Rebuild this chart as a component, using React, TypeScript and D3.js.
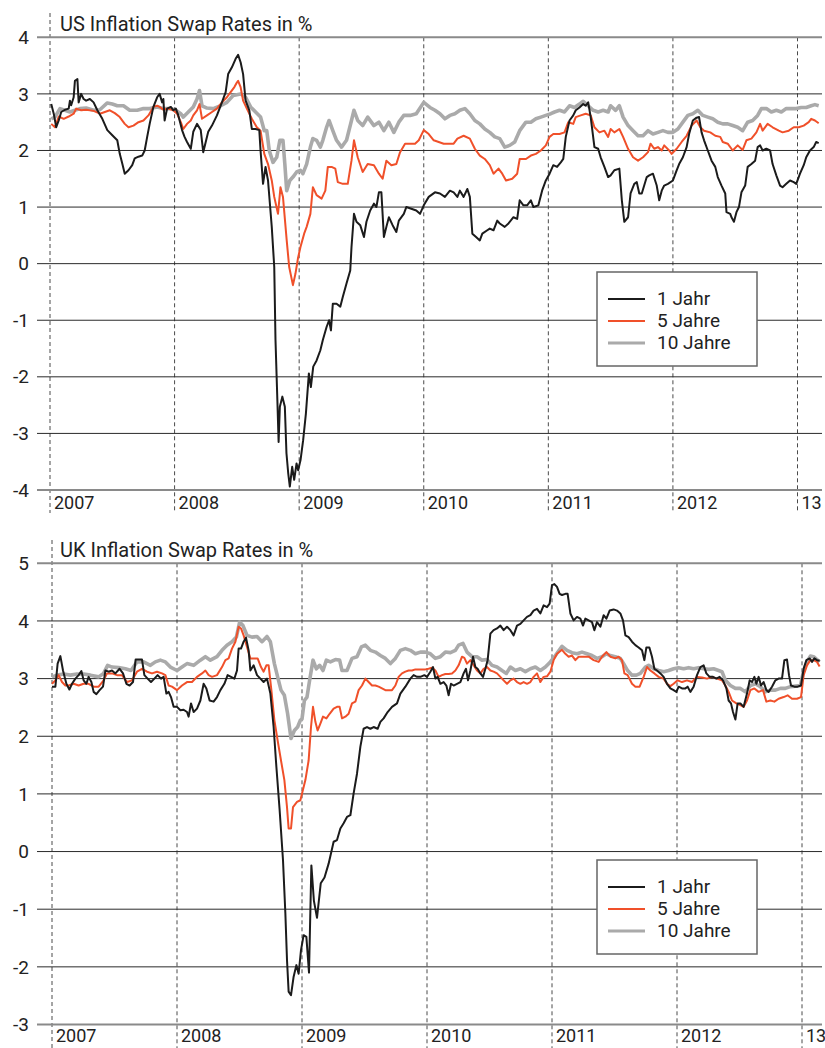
import React from "react";
import * as d3 from "d3";

type Pt = [number, number];

const yearTicks = [2007, 2008, 2009, 2010, 2011, 2012, 2013];
const yearLabels = ["2007", "2008", "2009", "2010", "2011", "2012", "13"];
const usYTicks = [4, 3, 2, 1, 0, -1, -2, -3, -4];
const ukYTicks = [5, 4, 3, 2, 1, 0, -1, -2, -3];
const seriesNames = ["1 Jahr", "5 Jahre", "10 Jahre"];
const seriesColors = ["#1b1b1b", "#f0502a", "#aaaaaa"];
const seriesWidths = [2, 2, 3.6];

const us1Jahr: Pt[] = [[2007.01,2.82],[2007.03,2.65],[2007.05,2.41],[2007.07,2.53],[2007.09,2.68],[2007.12,2.72],[2007.15,2.74],[2007.16,2.88],[2007.17,2.80],[2007.19,2.94],[2007.20,3.23],[2007.22,3.26],[2007.23,2.85],[2007.25,3.00],[2007.27,2.91],[2007.29,2.88],[2007.32,2.91],[2007.35,2.85],[2007.38,2.71],[2007.42,2.56],[2007.46,2.36],[2007.50,2.27],[2007.54,2.18],[2007.56,1.94],[2007.58,1.77],[2007.60,1.59],[2007.63,1.65],[2007.66,1.74],[2007.68,1.86],[2007.71,1.89],[2007.74,1.91],[2007.76,2.00],[2007.78,2.24],[2007.80,2.47],[2007.83,2.77],[2007.86,2.94],[2007.88,3.00],[2007.90,2.85],[2007.91,2.91],[2007.92,2.53],[2007.94,2.74],[2007.97,2.77],[2007.99,2.71],[2008.01,2.74],[2008.03,2.62],[2008.06,2.36],[2008.08,2.24],[2008.10,2.15],[2008.13,2.03],[2008.15,2.33],[2008.18,2.47],[2008.21,2.36],[2008.23,1.97],[2008.25,2.15],[2008.27,2.33],[2008.30,2.44],[2008.34,2.62],[2008.38,2.85],[2008.41,3.03],[2008.43,3.35],[2008.46,3.47],[2008.49,3.62],[2008.51,3.69],[2008.53,3.56],[2008.55,3.35],[2008.57,2.88],[2008.60,2.71],[2008.62,2.38],[2008.65,2.38],[2008.68,2.36],[2008.69,2.00],[2008.71,1.41],[2008.73,1.71],[2008.75,1.47],[2008.78,0.65],[2008.80,-0.06],[2008.81,-1.35],[2008.825,-2.41],[2008.835,-3.15],[2008.845,-2.53],[2008.865,-2.35],[2008.885,-2.53],[2008.898,-3.35],[2008.912,-3.70],[2008.925,-3.94],[2008.944,-3.59],[2008.96,-3.82],[2008.979,-3.53],[2008.992,-3.65],[2009.011,-3.47],[2009.032,-3.12],[2009.054,-2.65],[2009.078,-1.94],[2009.094,-2.18],[2009.113,-1.82],[2009.14,-1.71],[2009.17,-1.53],[2009.19,-1.35],[2009.22,-1.12],[2009.24,-1.00],[2009.255,-1.18],[2009.27,-0.71],[2009.30,-0.71],[2009.33,-0.76],[2009.35,-0.59],[2009.38,-0.35],[2009.41,-0.12],[2009.42,0.29],[2009.44,0.88],[2009.46,0.74],[2009.49,0.68],[2009.52,0.47],[2009.54,0.74],[2009.57,0.94],[2009.60,1.06],[2009.62,1.00],[2009.64,1.26],[2009.66,1.26],[2009.68,0.47],[2009.70,0.65],[2009.72,0.82],[2009.75,0.68],[2009.78,0.56],[2009.80,0.76],[2009.84,0.88],[2009.86,1.00],[2009.90,0.97],[2009.94,0.94],[2009.97,0.88],[2010.00,1.03],[2010.04,1.18],[2010.09,1.26],[2010.13,1.24],[2010.17,1.18],[2010.21,1.29],[2010.24,1.26],[2010.27,1.18],[2010.29,1.29],[2010.32,1.18],[2010.35,1.32],[2010.37,1.18],[2010.39,0.53],[2010.42,0.47],[2010.45,0.41],[2010.47,0.53],[2010.51,0.59],[2010.53,0.62],[2010.56,0.59],[2010.59,0.76],[2010.61,0.71],[2010.65,0.65],[2010.68,0.71],[2010.72,0.82],[2010.75,0.79],[2010.77,1.12],[2010.80,1.03],[2010.83,1.03],[2010.86,1.12],[2010.88,1.00],[2010.92,1.03],[2010.95,1.29],[2010.98,1.47],[2011.01,1.59],[2011.04,1.74],[2011.07,1.71],[2011.10,1.79],[2011.12,1.85],[2011.14,2.24],[2011.17,2.53],[2011.20,2.62],[2011.22,2.71],[2011.25,2.76],[2011.28,2.82],[2011.30,2.79],[2011.32,2.85],[2011.34,2.59],[2011.37,2.06],[2011.40,2.03],[2011.42,1.88],[2011.45,1.71],[2011.48,1.53],[2011.50,1.56],[2011.53,1.65],[2011.57,1.68],[2011.59,1.12],[2011.61,0.74],[2011.64,0.82],[2011.66,1.24],[2011.69,1.41],[2011.71,1.44],[2011.73,1.24],[2011.75,1.24],[2011.79,1.53],[2011.81,1.56],[2011.84,1.59],[2011.87,1.38],[2011.89,1.12],[2011.91,1.29],[2011.93,1.38],[2011.96,1.41],[2012.00,1.47],[2012.03,1.65],[2012.05,1.76],[2012.08,1.88],[2012.11,2.06],[2012.13,2.29],[2012.16,2.53],[2012.19,2.58],[2012.21,2.59],[2012.23,2.32],[2012.25,2.18],[2012.28,2.00],[2012.31,1.82],[2012.34,1.71],[2012.36,1.53],[2012.39,1.38],[2012.42,1.24],[2012.43,0.91],[2012.46,0.88],[2012.47,0.82],[2012.49,0.74],[2012.51,0.91],[2012.53,1.00],[2012.55,1.26],[2012.58,1.38],[2012.60,1.71],[2012.63,1.76],[2012.66,1.82],[2012.68,2.06],[2012.70,2.09],[2012.72,2.00],[2012.75,2.03],[2012.78,2.00],[2012.80,1.76],[2012.83,1.56],[2012.86,1.38],[2012.88,1.35],[2012.91,1.41],[2012.94,1.47],[2012.97,1.44],[2012.99,1.41],[2013.02,1.59],[2013.05,1.74],[2013.07,1.88],[2013.10,2.00],[2013.13,2.06],[2013.15,2.15],[2013.17,2.13]];

const us5Jahre: Pt[] = [[2007.01,2.47],[2007.04,2.41],[2007.07,2.60],[2007.11,2.56],[2007.15,2.60],[2007.19,2.65],[2007.21,2.74],[2007.25,2.71],[2007.29,2.72],[2007.35,2.70],[2007.40,2.65],[2007.44,2.68],[2007.48,2.71],[2007.52,2.66],[2007.56,2.59],[2007.60,2.47],[2007.63,2.41],[2007.67,2.44],[2007.71,2.50],[2007.75,2.53],[2007.79,2.62],[2007.83,2.77],[2007.86,2.79],[2007.88,2.77],[2007.91,2.72],[2007.95,2.74],[2007.99,2.71],[2008.02,2.65],[2008.05,2.50],[2008.07,2.38],[2008.10,2.47],[2008.13,2.53],[2008.15,2.62],[2008.18,2.71],[2008.20,2.82],[2008.22,2.56],[2008.26,2.62],[2008.30,2.68],[2008.34,2.74],[2008.38,2.85],[2008.42,2.94],[2008.45,3.03],[2008.48,3.12],[2008.50,3.20],[2008.51,3.23],[2008.53,3.12],[2008.55,2.88],[2008.58,2.74],[2008.62,2.56],[2008.66,2.41],[2008.69,2.35],[2008.72,1.94],[2008.75,1.76],[2008.78,1.47],[2008.80,1.18],[2008.83,0.88],[2008.85,1.35],[2008.87,1.18],[2008.90,0.41],[2008.92,-0.06],[2008.95,-0.38],[2008.97,-0.18],[2008.99,0.09],[2009.01,0.29],[2009.04,0.53],[2009.06,0.65],[2009.09,0.88],[2009.11,1.35],[2009.14,1.21],[2009.18,1.15],[2009.21,1.29],[2009.23,1.71],[2009.26,1.71],[2009.29,1.68],[2009.31,1.44],[2009.35,1.41],[2009.39,1.41],[2009.42,1.82],[2009.44,2.18],[2009.47,1.88],[2009.51,1.62],[2009.55,1.76],[2009.60,1.74],[2009.64,1.59],[2009.67,1.50],[2009.70,1.82],[2009.74,1.74],[2009.78,1.76],[2009.81,1.97],[2009.85,2.12],[2009.89,2.12],[2009.93,2.12],[2009.96,2.18],[2010.00,2.36],[2010.04,2.29],[2010.08,2.18],[2010.12,2.15],[2010.16,2.12],[2010.21,2.12],[2010.24,2.12],[2010.27,2.21],[2010.32,2.26],[2010.37,2.21],[2010.41,2.03],[2010.45,1.91],[2010.49,1.85],[2010.53,1.74],[2010.56,1.59],[2010.60,1.68],[2010.63,1.59],[2010.66,1.47],[2010.71,1.50],[2010.75,1.59],[2010.77,1.85],[2010.82,1.85],[2010.86,1.91],[2010.90,1.94],[2010.94,2.00],[2010.98,2.09],[2011.01,2.24],[2011.04,2.29],[2011.09,2.29],[2011.13,2.32],[2011.16,2.50],[2011.20,2.47],[2011.22,2.59],[2011.26,2.62],[2011.30,2.65],[2011.34,2.62],[2011.37,2.41],[2011.41,2.32],[2011.45,2.35],[2011.48,2.24],[2011.50,2.38],[2011.53,2.32],[2011.57,2.38],[2011.60,2.24],[2011.64,2.03],[2011.68,1.88],[2011.72,1.82],[2011.76,1.88],[2011.80,1.97],[2011.82,2.12],[2011.85,2.03],[2011.88,2.06],[2011.91,2.00],[2011.93,2.09],[2011.97,2.00],[2011.99,1.94],[2012.03,2.03],[2012.07,2.15],[2012.11,2.26],[2012.15,2.44],[2012.19,2.53],[2012.22,2.41],[2012.25,2.35],[2012.30,2.32],[2012.34,2.26],[2012.38,2.24],[2012.40,2.15],[2012.44,2.12],[2012.48,2.00],[2012.52,2.09],[2012.56,2.01],[2012.59,2.18],[2012.63,2.21],[2012.67,2.32],[2012.70,2.47],[2012.72,2.35],[2012.76,2.47],[2012.80,2.41],[2012.85,2.35],[2012.88,2.32],[2012.93,2.35],[2012.97,2.41],[2013.01,2.41],[2013.05,2.44],[2013.09,2.50],[2013.11,2.56],[2013.14,2.53],[2013.17,2.48]];

const us10Jahre: Pt[] = [[2007.01,2.56],[2007.04,2.59],[2007.08,2.74],[2007.12,2.71],[2007.16,2.68],[2007.20,2.71],[2007.24,2.74],[2007.29,2.75],[2007.35,2.71],[2007.40,2.72],[2007.46,2.84],[2007.50,2.82],[2007.54,2.79],[2007.59,2.79],[2007.64,2.71],[2007.70,2.71],[2007.75,2.74],[2007.80,2.74],[2007.86,2.77],[2007.91,2.74],[2007.97,2.74],[2008.01,2.71],[2008.05,2.65],[2008.07,2.59],[2008.11,2.68],[2008.15,2.77],[2008.18,2.91],[2008.20,3.06],[2008.22,2.79],[2008.26,2.75],[2008.31,2.74],[2008.37,2.79],[2008.42,2.85],[2008.47,2.97],[2008.53,3.00],[2008.57,2.94],[2008.61,2.77],[2008.65,2.68],[2008.69,2.59],[2008.72,2.35],[2008.74,2.35],[2008.76,2.00],[2008.79,1.79],[2008.82,1.88],[2008.845,2.18],[2008.87,2.18],[2008.885,1.76],[2008.90,1.29],[2008.925,1.47],[2008.95,1.53],[2008.98,1.62],[2009.01,1.65],[2009.03,1.59],[2009.06,1.76],[2009.09,2.06],[2009.11,2.21],[2009.14,2.18],[2009.17,2.06],[2009.19,2.18],[2009.22,2.41],[2009.24,2.53],[2009.27,2.35],[2009.30,2.18],[2009.34,2.06],[2009.38,2.18],[2009.42,2.53],[2009.44,2.71],[2009.47,2.53],[2009.51,2.44],[2009.55,2.59],[2009.60,2.44],[2009.64,2.50],[2009.68,2.35],[2009.72,2.50],[2009.76,2.32],[2009.80,2.50],[2009.84,2.62],[2009.89,2.62],[2009.94,2.65],[2010.00,2.85],[2010.05,2.76],[2010.09,2.71],[2010.13,2.65],[2010.17,2.56],[2010.21,2.62],[2010.25,2.65],[2010.29,2.71],[2010.33,2.74],[2010.37,2.65],[2010.41,2.53],[2010.45,2.47],[2010.49,2.38],[2010.53,2.32],[2010.57,2.24],[2010.61,2.21],[2010.65,2.06],[2010.69,2.09],[2010.73,2.15],[2010.77,2.35],[2010.82,2.50],[2010.86,2.50],[2010.90,2.56],[2010.94,2.59],[2010.98,2.62],[2011.02,2.65],[2011.05,2.68],[2011.09,2.71],[2011.13,2.68],[2011.17,2.79],[2011.21,2.76],[2011.25,2.82],[2011.28,2.87],[2011.32,2.79],[2011.36,2.71],[2011.40,2.68],[2011.44,2.71],[2011.48,2.68],[2011.50,2.79],[2011.54,2.71],[2011.57,2.79],[2011.60,2.59],[2011.64,2.44],[2011.68,2.35],[2011.72,2.26],[2011.76,2.26],[2011.80,2.35],[2011.84,2.29],[2011.88,2.32],[2011.92,2.35],[2011.96,2.32],[2012.00,2.32],[2012.04,2.38],[2012.08,2.50],[2012.12,2.62],[2012.16,2.65],[2012.20,2.71],[2012.24,2.62],[2012.28,2.59],[2012.32,2.56],[2012.36,2.50],[2012.40,2.47],[2012.44,2.47],[2012.48,2.44],[2012.52,2.41],[2012.56,2.35],[2012.60,2.50],[2012.64,2.53],[2012.68,2.62],[2012.71,2.74],[2012.75,2.74],[2012.79,2.68],[2012.83,2.71],[2012.87,2.68],[2012.91,2.74],[2012.95,2.74],[2012.99,2.74],[2013.03,2.76],[2013.07,2.76],[2013.11,2.79],[2013.14,2.81],[2013.17,2.79]];

const uk1Jahr: Pt[] = [[2007.000,2.86],[2007.027,2.86],[2007.045,3.26],[2007.067,3.39],[2007.088,3.14],[2007.115,2.91],[2007.139,2.81],[2007.160,2.91],[2007.187,3.00],[2007.213,3.06],[2007.235,3.13],[2007.253,2.97],[2007.275,2.91],[2007.293,3.03],[2007.315,2.94],[2007.333,2.77],[2007.355,2.73],[2007.381,2.80],[2007.408,2.86],[2007.427,3.14],[2007.453,3.12],[2007.480,3.14],[2007.507,3.09],[2007.541,3.17],[2007.568,3.09],[2007.595,2.91],[2007.621,2.88],[2007.648,2.94],[2007.669,3.33],[2007.693,3.33],[2007.720,3.33],[2007.739,3.06],[2007.765,3.00],[2007.792,2.94],[2007.819,3.00],[2007.845,3.06],[2007.872,3.00],[2007.893,3.03],[2007.915,2.74],[2007.933,2.77],[2007.952,2.68],[2007.973,2.51],[2008.000,2.51],[2008.027,2.45],[2008.053,2.46],[2008.080,2.42],[2008.093,2.34],[2008.112,2.57],[2008.133,2.42],[2008.160,2.48],[2008.187,2.62],[2008.213,2.91],[2008.235,2.83],[2008.261,2.62],[2008.293,2.60],[2008.320,2.68],[2008.347,2.80],[2008.379,2.91],[2008.405,3.06],[2008.432,3.03],[2008.459,3.00],[2008.480,3.14],[2008.493,3.52],[2008.512,3.52],[2008.533,3.64],[2008.552,3.71],[2008.573,3.49],[2008.587,3.14],[2008.613,3.23],[2008.640,3.06],[2008.667,3.00],[2008.693,2.94],[2008.720,3.00],[2008.747,2.74],[2008.773,2.16],[2008.795,1.47],[2008.821,0.72],[2008.848,-0.15],[2008.867,-1.08],[2008.880,-1.88],[2008.893,-2.43],[2008.912,-2.49],[2008.933,-2.17],[2008.955,-1.97],[2008.973,-2.12],[2008.992,-1.71],[2009.013,-1.45],[2009.035,-1.48],[2009.056,-2.10],[2009.075,-0.24],[2009.095,-0.85],[2009.120,-1.15],[2009.150,-0.55],[2009.180,-0.45],[2009.213,-0.21],[2009.253,0.17],[2009.280,0.20],[2009.307,0.40],[2009.333,0.49],[2009.360,0.60],[2009.387,0.63],[2009.413,1.01],[2009.440,1.35],[2009.467,1.82],[2009.493,2.13],[2009.520,2.16],[2009.547,2.13],[2009.573,2.16],[2009.605,2.13],[2009.627,2.25],[2009.653,2.31],[2009.685,2.42],[2009.720,2.51],[2009.760,2.57],[2009.787,2.74],[2009.827,2.86],[2009.867,3.00],[2009.893,3.06],[2009.920,3.03],[2009.947,3.03],[2009.979,3.06],[2010.000,3.03],[2010.027,3.12],[2010.048,3.20],[2010.067,3.00],[2010.085,3.03],[2010.107,2.91],[2010.133,2.94],[2010.155,2.88],[2010.173,2.71],[2010.192,2.91],[2010.213,2.88],[2010.240,2.91],[2010.267,2.94],[2010.293,3.09],[2010.312,3.17],[2010.328,2.97],[2010.347,3.14],[2010.368,3.38],[2010.387,3.20],[2010.405,3.17],[2010.427,3.09],[2010.448,3.03],[2010.467,3.17],[2010.485,3.32],[2010.507,3.78],[2010.533,3.84],[2010.560,3.87],[2010.587,3.92],[2010.613,3.84],[2010.640,3.90],[2010.667,3.84],[2010.693,3.75],[2010.720,3.92],[2010.747,3.95],[2010.773,4.01],[2010.800,4.07],[2010.827,4.10],[2010.853,4.18],[2010.880,4.21],[2010.907,4.13],[2010.933,4.27],[2010.960,4.24],[2010.981,4.30],[2011.000,4.62],[2011.019,4.64],[2011.040,4.59],[2011.061,4.47],[2011.080,4.45],[2011.107,4.47],[2011.125,4.47],[2011.147,4.13],[2011.173,4.01],[2011.200,4.07],[2011.227,4.04],[2011.248,3.92],[2011.267,4.04],[2011.293,4.01],[2011.320,3.98],[2011.339,3.84],[2011.360,3.98],[2011.387,3.90],[2011.413,4.10],[2011.435,4.04],[2011.461,4.18],[2011.493,4.20],[2011.520,4.18],[2011.547,4.13],[2011.568,4.01],[2011.587,3.75],[2011.613,3.72],[2011.640,3.64],[2011.667,3.58],[2011.693,3.54],[2011.720,3.49],[2011.739,3.32],[2011.755,3.54],[2011.779,3.54],[2011.800,3.38],[2011.819,3.17],[2011.840,3.14],[2011.867,3.09],[2011.893,3.03],[2011.920,2.91],[2011.947,2.83],[2011.973,2.80],[2011.995,2.77],[2012.013,2.86],[2012.040,2.83],[2012.067,2.83],[2012.085,2.86],[2012.107,2.77],[2012.133,2.86],[2012.160,3.06],[2012.187,3.20],[2012.213,3.23],[2012.235,3.09],[2012.261,3.03],[2012.288,3.03],[2012.315,3.00],[2012.341,3.03],[2012.368,2.97],[2012.395,2.83],[2012.413,2.62],[2012.432,2.57],[2012.448,2.42],[2012.467,2.29],[2012.485,2.57],[2012.507,2.57],[2012.533,2.51],[2012.560,2.74],[2012.581,2.97],[2012.600,2.94],[2012.619,3.03],[2012.635,2.91],[2012.653,3.03],[2012.672,2.88],[2012.693,2.94],[2012.715,2.80],[2012.733,2.77],[2012.760,2.86],[2012.787,2.97],[2012.813,3.00],[2012.840,3.00],[2012.859,3.32],[2012.880,3.33],[2012.896,3.06],[2012.912,2.88],[2012.939,2.86],[2012.965,2.86],[2012.992,2.88],[2013.013,3.17],[2013.035,3.32],[2013.061,3.35],[2013.080,3.29],[2013.099,3.35],[2013.120,3.32],[2013.141,3.31]];

const uk5Jahre: Pt[] = [[2007.000,2.91],[2007.027,2.97],[2007.053,3.06],[2007.080,2.94],[2007.107,2.88],[2007.133,2.88],[2007.173,2.91],[2007.213,2.88],[2007.253,2.91],[2007.293,2.91],[2007.333,2.86],[2007.373,2.86],[2007.413,2.97],[2007.440,3.09],[2007.480,3.09],[2007.520,3.06],[2007.560,3.06],[2007.600,2.94],[2007.640,2.97],[2007.680,3.12],[2007.720,3.17],[2007.760,3.12],[2007.800,3.09],[2007.840,3.12],[2007.880,3.09],[2007.907,3.06],[2007.933,2.88],[2007.960,2.86],[2008.000,2.80],[2008.040,2.88],[2008.080,2.94],[2008.120,2.94],[2008.160,3.03],[2008.200,3.09],[2008.227,3.14],[2008.253,3.06],[2008.280,3.03],[2008.320,3.06],[2008.360,3.20],[2008.387,3.32],[2008.413,3.35],[2008.440,3.52],[2008.467,3.64],[2008.493,3.90],[2008.512,3.87],[2008.533,3.75],[2008.560,3.55],[2008.587,3.35],[2008.613,3.35],[2008.645,3.35],[2008.672,3.20],[2008.693,3.12],[2008.715,3.23],[2008.733,3.23],[2008.755,2.80],[2008.779,2.28],[2008.805,1.93],[2008.832,1.58],[2008.859,1.24],[2008.880,0.77],[2008.893,0.40],[2008.912,0.40],[2008.928,0.77],[2008.960,0.86],[2008.987,0.89],[2009.027,1.24],[2009.053,1.58],[2009.072,2.16],[2009.088,2.51],[2009.107,2.25],[2009.125,2.10],[2009.147,2.22],[2009.168,2.34],[2009.195,2.31],[2009.221,2.39],[2009.253,2.48],[2009.280,2.51],[2009.301,2.51],[2009.320,2.31],[2009.347,2.34],[2009.373,2.39],[2009.400,2.57],[2009.427,2.60],[2009.453,2.80],[2009.480,2.88],[2009.507,3.00],[2009.533,2.94],[2009.560,2.88],[2009.587,2.88],[2009.613,2.86],[2009.640,2.83],[2009.667,2.80],[2009.693,2.80],[2009.720,2.80],[2009.747,2.88],[2009.773,3.03],[2009.800,3.09],[2009.827,3.12],[2009.853,3.14],[2009.880,3.14],[2009.907,3.16],[2009.933,3.16],[2009.960,3.16],[2009.987,3.16],[2010.013,3.17],[2010.040,3.19],[2010.067,3.14],[2010.093,3.03],[2010.120,3.06],[2010.147,3.08],[2010.173,3.08],[2010.200,3.09],[2010.227,3.14],[2010.253,3.23],[2010.280,3.38],[2010.299,3.36],[2010.320,3.26],[2010.347,3.32],[2010.373,3.23],[2010.400,3.14],[2010.427,3.09],[2010.453,3.17],[2010.480,3.20],[2010.507,3.14],[2010.533,3.12],[2010.560,3.09],[2010.587,3.03],[2010.613,2.97],[2010.640,2.91],[2010.667,2.97],[2010.693,3.00],[2010.720,2.94],[2010.747,2.91],[2010.773,2.94],[2010.800,2.91],[2010.827,2.94],[2010.853,3.03],[2010.880,3.09],[2010.907,2.94],[2010.933,3.03],[2010.960,3.04],[2010.987,3.12],[2011.013,3.32],[2011.040,3.43],[2011.080,3.50],[2011.107,3.43],[2011.133,3.38],[2011.160,3.40],[2011.187,3.32],[2011.213,3.38],[2011.253,3.38],[2011.293,3.38],[2011.333,3.32],[2011.373,3.29],[2011.400,3.38],[2011.435,3.46],[2011.467,3.38],[2011.507,3.35],[2011.533,3.38],[2011.560,3.32],[2011.579,3.09],[2011.605,3.06],[2011.640,2.91],[2011.667,2.86],[2011.701,2.86],[2011.733,3.03],[2011.760,3.20],[2011.787,3.14],[2011.819,3.09],[2011.853,3.03],[2011.893,3.00],[2011.920,2.91],[2011.947,2.87],[2011.973,2.91],[2012.005,2.97],[2012.040,2.94],[2012.080,2.97],[2012.120,2.94],[2012.160,3.03],[2012.200,3.02],[2012.240,3.00],[2012.280,3.03],[2012.320,3.00],[2012.360,2.97],[2012.387,2.88],[2012.413,2.77],[2012.440,2.62],[2012.475,2.57],[2012.507,2.54],[2012.533,2.51],[2012.560,2.62],[2012.587,2.80],[2012.619,2.83],[2012.653,2.77],[2012.688,2.80],[2012.715,2.60],[2012.747,2.62],[2012.779,2.60],[2012.813,2.65],[2012.853,2.68],[2012.885,2.71],[2012.920,2.65],[2012.960,2.65],[2012.992,2.68],[2013.013,3.06],[2013.040,3.23],[2013.067,3.32],[2013.093,3.32],[2013.120,3.29],[2013.141,3.21]];

const uk10Jahre: Pt[] = [[2007.000,3.03],[2007.040,3.06],[2007.093,3.08],[2007.147,3.06],[2007.200,3.08],[2007.253,3.08],[2007.307,3.06],[2007.373,3.03],[2007.413,3.09],[2007.445,3.23],[2007.480,3.20],[2007.533,3.19],[2007.587,3.17],[2007.632,3.14],[2007.680,3.29],[2007.733,3.29],[2007.787,3.23],[2007.827,3.29],[2007.867,3.32],[2007.907,3.29],[2007.947,3.20],[2008.000,3.14],[2008.040,3.20],[2008.080,3.26],[2008.133,3.23],[2008.187,3.32],[2008.227,3.38],[2008.267,3.32],[2008.320,3.38],[2008.360,3.49],[2008.400,3.58],[2008.440,3.64],[2008.475,3.72],[2008.501,3.98],[2008.528,3.92],[2008.560,3.75],[2008.600,3.72],[2008.640,3.73],[2008.680,3.64],[2008.720,3.73],[2008.747,3.64],[2008.779,3.26],[2008.805,3.03],[2008.832,2.80],[2008.859,2.71],[2008.885,2.39],[2008.912,1.96],[2008.939,2.10],[2008.965,2.16],[2008.987,2.28],[2009.000,2.30],[2009.019,2.62],[2009.040,2.68],[2009.061,2.97],[2009.088,3.32],[2009.115,3.17],[2009.141,3.23],[2009.168,3.14],[2009.195,3.32],[2009.227,3.29],[2009.267,3.33],[2009.301,3.32],[2009.320,3.14],[2009.360,3.14],[2009.400,3.35],[2009.440,3.38],[2009.475,3.55],[2009.507,3.58],[2009.547,3.49],[2009.587,3.46],[2009.627,3.40],[2009.667,3.35],[2009.707,3.26],[2009.747,3.35],[2009.787,3.49],[2009.827,3.52],[2009.867,3.49],[2009.907,3.43],[2009.947,3.46],[2009.987,3.46],[2010.027,3.43],[2010.067,3.35],[2010.107,3.38],[2010.147,3.46],[2010.187,3.45],[2010.227,3.49],[2010.253,3.58],[2010.288,3.61],[2010.320,3.46],[2010.360,3.38],[2010.400,3.38],[2010.440,3.32],[2010.480,3.33],[2010.520,3.23],[2010.560,3.20],[2010.600,3.14],[2010.635,3.09],[2010.667,3.20],[2010.707,3.14],[2010.747,3.17],[2010.787,3.12],[2010.827,3.17],[2010.867,3.20],[2010.907,3.14],[2010.947,3.20],[2010.987,3.29],[2011.027,3.40],[2011.080,3.56],[2011.120,3.49],[2011.160,3.45],[2011.200,3.43],[2011.240,3.46],[2011.280,3.43],[2011.320,3.40],[2011.360,3.35],[2011.400,3.38],[2011.435,3.43],[2011.467,3.40],[2011.507,3.38],[2011.547,3.35],[2011.573,3.26],[2011.605,3.14],[2011.640,3.06],[2011.675,3.06],[2011.707,3.09],[2011.747,3.20],[2011.773,3.23],[2011.813,3.17],[2011.853,3.14],[2011.893,3.12],[2011.933,3.14],[2011.973,3.17],[2012.013,3.19],[2012.053,3.17],[2012.093,3.19],[2012.133,3.17],[2012.173,3.19],[2012.213,3.17],[2012.253,3.16],[2012.293,3.17],[2012.333,3.14],[2012.360,3.12],[2012.387,2.97],[2012.427,2.88],[2012.467,2.83],[2012.507,2.83],[2012.547,2.77],[2012.587,2.88],[2012.627,2.91],[2012.667,2.86],[2012.707,2.77],[2012.747,2.80],[2012.787,2.80],[2012.827,2.83],[2012.867,2.83],[2012.907,2.86],[2012.947,2.87],[2012.987,2.88],[2013.013,3.14],[2013.040,3.29],[2013.067,3.39],[2013.093,3.38],[2013.120,3.33],[2013.141,3.29]];

const FONT = "Roboto, 'Liberation Sans', sans-serif";

type PanelProps = {
  title: string;
  series: Pt[][];
  yDomain: [number, number];
  yRange: [number, number];
  xRange: [number, number];
  yTicks: number[];
  dashTop: number;
  dashBottom: number;
  labelBaseline: number;
  legendTop: number;
};

function Panel(p: PanelProps) {
  const x = d3.scaleLinear().domain([2007, 2013]).range(p.xRange);
  const y = d3.scaleLinear().domain(p.yDomain).range(p.yRange);
  const line = d3
    .line<Pt>()
    .x((d) => x(d[0]))
    .y((d) => y(d[1]))
    .curve(d3.curveLinear);
  const gridX0 = 37;
  const gridX1 = 822;
  const yMax = p.yDomain[1];
  const yMin = p.yDomain[0];
  const order = [2, 1, 0];
  const lx = 597;
  const lw = 160;
  const lh = 94;
  return (
    <g>
      {yearTicks.map((t, i) => (
        <line
          key={"d" + t}
          x1={x(t)}
          x2={x(t)}
          y1={i === 0 ? p.dashTop : y(yMax)}
          y2={p.dashBottom}
          stroke="#4a4a4a"
          strokeWidth={1}
          strokeDasharray="4,3"
        />
      ))}
      {p.yTicks.map((t) => {
        const edge = t === yMax || t === yMin;
        return (
          <line
            key={"g" + t}
            x1={gridX0}
            x2={gridX1}
            y1={y(t)}
            y2={y(t)}
            stroke={edge ? "#8a8a8a" : "#2a2a2a"}
            strokeWidth={edge ? 2 : 1}
          />
        );
      })}
      {p.yTicks.map((t) => (
        <text
          key={"l" + t}
          x={29}
          y={y(t)}
          dy="0.35em"
          textAnchor="end"
          fontFamily={FONT}
          fontSize={19}
          fill="#222"
        >
          {t < 0 ? "-" + Math.abs(t) : String(t)}
        </text>
      ))}
      {yearTicks.map((t, i) => (
        <text
          key={"x" + t}
          x={x(t) + 4}
          y={p.labelBaseline}
          fontFamily={FONT}
          fontSize={18}
          fill="#222"
        >
          {yearLabels[i]}
        </text>
      ))}
      <text
        x={60}
        y={y(yMax) - 6}
        fontFamily={FONT}
        fontSize={20}
        fill="#222"
      >
        {p.title}
      </text>
      {order.map((i) => (
        <path
          key={"s" + i}
          d={line(p.series[i]) || ""}
          fill="none"
          stroke={seriesColors[i]}
          strokeWidth={seriesWidths[i]}
          strokeLinejoin="round"
        />
      ))}
      <rect
        x={lx}
        y={p.legendTop}
        width={lw}
        height={lh}
        fill="#fff"
        stroke="#666"
        strokeWidth={1.5}
      />
      {seriesNames.map((n, i) => {
        const ly = p.legendTop + 27 + i * 22;
        return (
          <g key={"lg" + i}>
            <line
              x1={lx + 11}
              x2={lx + 48}
              y1={ly}
              y2={ly}
              stroke={seriesColors[i]}
              strokeWidth={i === 2 ? 3.2 : 2.2}
            />
            <text
              x={lx + 60}
              y={ly + 6}
              fontFamily={FONT}
              fontSize={19}
              fill="#222"
            >
              {n}
            </text>
          </g>
        );
      })}
    </g>
  );
}

export default function App() {
  return (
    <div style={{ position: "absolute", left: 0, top: 0, background: "#fff" }}>
      <svg width={825} height={1048} style={{ display: "block" }}>
        <rect x={0} y={0} width={825} height={1048} fill="#fff" />
        <Panel
          title="US Inflation Swap Rates in %"
          series={[us1Jahr, us5Jahre, us10Jahre]}
          yDomain={[-4, 4]}
          yRange={[490, 37.3]}
          xRange={[50, 797.5]}
          yTicks={usYTicks}
          dashTop={13}
          dashBottom={513}
          labelBaseline={509}
          legendTop={272}
        />
        <Panel
          title="UK Inflation Swap Rates in %"
          series={[uk1Jahr, uk5Jahre, uk10Jahre]}
          yDomain={[-3, 5]}
          yRange={[1024.5, 563.3]}
          xRange={[52, 802]}
          yTicks={ukYTicks}
          dashTop={540}
          dashBottom={1048}
          labelBaseline={1042}
          legendTop={860}
        />
      </svg>
    </div>
  );
}
